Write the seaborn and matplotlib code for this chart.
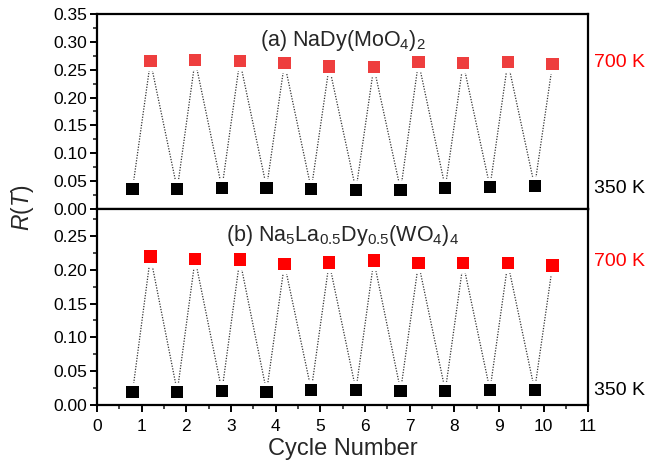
import matplotlib
matplotlib.use("Agg")
import matplotlib.pyplot as plt
import seaborn as sns
import numpy as np
import pandas as pd
from matplotlib.ticker import MultipleLocator
import matplotlib.transforms as mtransforms

sns.set_theme(style="ticks")
plt.rcParams['font.family'] = ['Liberation Sans', 'DejaVu Sans']
plt.rcParams['mathtext.fontset'] = 'custom'
plt.rcParams['mathtext.rm'] = 'Liberation Sans'
plt.rcParams['mathtext.it'] = 'Liberation Sans:italic'

# Data
cycles = list(range(1, 11))
x_low = [c - 0.2 for c in cycles]   # 350 K points
x_high = [c + 0.2 for c in cycles]  # 700 K points

a_high = [0.265, 0.267, 0.266, 0.262, 0.256, 0.255, 0.264, 0.262, 0.264, 0.260]
a_low = [0.0365, 0.0354, 0.0372, 0.0383, 0.0354, 0.034, 0.034, 0.0383, 0.0395, 0.0407]
b_high = [0.2196, 0.2157, 0.2151, 0.2088, 0.2107, 0.2137, 0.2098, 0.2098, 0.2098, 0.2063]
b_low = [0.0196, 0.0196, 0.0206, 0.0196, 0.022, 0.022, 0.021, 0.021, 0.022, 0.022]

titles = [r"(a) NaDy(MoO$_4$)$_2$", r"(b) Na$_5$La$_{0.5}$Dy$_{0.5}$(WO$_4$)$_4$"]
high_colors = ["#EE3E3E", "#FF0000"]
ylims = [(0, 0.35), (0, 0.29)]
high_label, low_label = "700 K", "350 K"

fig = plt.figure(figsize=(6.5, 4.67), dpi=100)
ax1 = fig.add_axes([0.149, 0.5525, 0.756, 0.4175])
ax2 = fig.add_axes([0.149, 0.1328, 0.756, 0.4197], sharex=ax1)

for ax, hi, lo, title, hc, yl in zip([ax1, ax2], [a_high, b_high], [a_low, b_low],
                                     titles, high_colors, ylims):
    df = pd.DataFrame({"x": x_low + x_high, "y": lo + hi,
                       "T": ["low"] * len(lo) + ["high"] * len(hi)}).sort_values("x")
    # dotted connecting line with small gap around markers
    ax.plot(df["x"], df["y"], ls=(0, (1, 1.2)), color="#333333", lw=0.9,
            marker="s", markersize=13, mfc="white", mec="white", zorder=2)
    sns.scatterplot(data=df, x="x", y="y", hue="T",
                    palette={"low": "black", "high": hc}, marker="s", s=78,
                    edgecolor="none", legend=False, ax=ax, zorder=3)
    ax.set_ylim(*yl)
    ax.set_xlim(0, 11)
    ax.yaxis.set_major_locator(MultipleLocator(0.05))
    ax.yaxis.set_minor_locator(MultipleLocator(0.025))
    ax.yaxis.set_major_formatter(matplotlib.ticker.FormatStrFormatter("%.2f"))
    ax.xaxis.set_major_locator(MultipleLocator(1))
    ax.set_xlabel("")
    ax.set_ylabel("")
    for sp in ax.spines.values():
        sp.set_linewidth(1.6)
        sp.set_color("black")
    ax.tick_params(axis="both", which="major", direction="out", length=5, width=1.4,
                   labelsize=12.5, colors="black", pad=2)
    ax.tick_params(axis="y", which="minor", direction="out", length=3, width=1.2)
    ax.text(0.5, 0.93, title, transform=ax.transAxes, ha="center", va="top",
            fontsize=15.5)
    trans = mtransforms.blended_transform_factory(ax.transAxes, ax.transData)
    ax.text(1.012, np.mean(hi), high_label, transform=trans, ha="left", va="center",
            color="red", fontsize=14)
    ax.text(1.012, np.mean(lo), low_label, transform=trans, ha="left", va="center",
            color="black", fontsize=14)

ax1.tick_params(axis="x", labelbottom=False)
ax2.xaxis.set_minor_locator(MultipleLocator(0.5))
ax2.tick_params(axis="x", which="major", pad=5)
ax2.tick_params(axis="x", which="minor", direction="out", length=3, width=1.2)
ax2.set_yticks([0.0, 0.05, 0.10, 0.15, 0.20, 0.25])
ax2.set_xlabel("Cycle Number", fontsize=17, labelpad=3)
fig.text(0.035, 0.555, r"$R$($T$)", rotation=90, ha="center", va="center", fontsize=16.5)

fig.savefig("out.png", dpi=100)
